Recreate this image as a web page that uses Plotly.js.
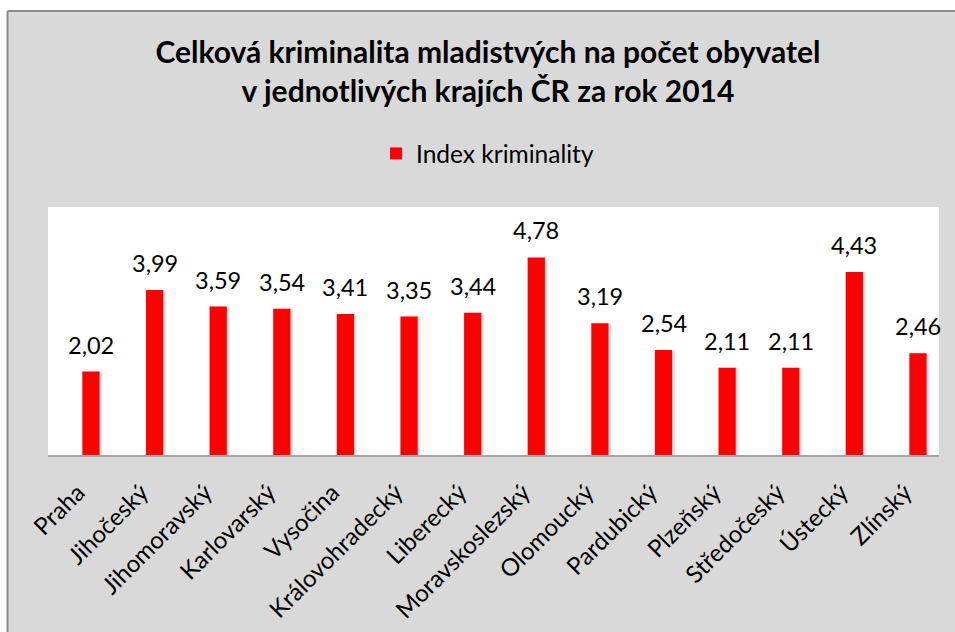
<!DOCTYPE html>
<html>
<head>
<meta charset="utf-8">
<script src="https://cdn.plot.ly/plotly-3.0.1.min.js"></script>
<style>html,body{margin:0;padding:0;background:#fff;}#chart{width:955px;height:632px;}</style>
</head>
<body>
<div id="chart"></div>
<script>
var categories = ["Praha","Jihočeský","Jihomoravský","Karlovarský","Vysočina","Královohradecký","Liberecký","Moravskoslezský","Olomoucký","Pardubický","Plzeňský","Středočeský","Ústecký","Zlínský"];
var values = [2.02,3.99,3.59,3.54,3.41,3.35,3.44,4.78,3.19,2.54,2.11,2.11,4.43,2.46];
var seriesName = "Index kriminality";
var titleLines = ["Celková kriminalita mladistvých na počet obyvatel","v jednotlivých krajích ČR za rok 2014"];

var FONT = "Lato, 'Open Sans', sans-serif";
var W = 955, H = 632, L = 48, R = 16, T = 207, B = 177;
var pw = W - L - R, ph = H - T - B;
function px2x(p){ return (p - L) / pw; }
function py2y(p){ return (H - B - p) / ph; }

var shadow = {
  type: "bar", x: categories, y: values, width: 0.33, offset: -0.15,
  marker: {color: "rgba(0,0,0,0.10)"}, showlegend: false, hoverinfo: "skip"
};
var bars = {
  type: "bar", name: seriesName, x: categories, y: values, width: 0.27,
  marker: {color: "#ff0000"}
};

var labels = categories.map(function(c, i){
  return {
    x: c, y: values[i], xref: "x", yref: "y", text: values[i].toFixed(2).replace(".", ","),
    showarrow: false, yanchor: "middle", yshift: 27,
    font: {family: FONT, size: 23.5, color: "#000"}
  };
});

var borderColor = "#8c8c8c";
var shapes = [
  {type: "rect", xref: "paper", yref: "paper", x0: px2x(-5), x1: px2x(W + 5), y0: py2y(11), y1: py2y(-5), fillcolor: "#ffffff", line: {width: 0}, layer: "below"},
  {type: "rect", xref: "paper", yref: "paper", x0: px2x(-5), x1: px2x(7), y0: py2y(H + 5), y1: py2y(-5), fillcolor: "#ffffff", line: {width: 0}, layer: "below"},
  {type: "line", xref: "paper", yref: "paper", x0: px2x(7.5), x1: px2x(W + 5), y0: py2y(11), y1: py2y(11), line: {color: borderColor, width: 2}},
  {type: "line", xref: "paper", yref: "paper", x0: px2x(7.5), x1: px2x(7.5), y0: py2y(11), y1: py2y(H + 5), line: {color: borderColor, width: 2}}
];

var layout = {
  width: W, height: H,
  margin: {l: L, r: R, t: T, b: B, pad: 0},
  paper_bgcolor: "#d9d9d9", plot_bgcolor: "#ffffff",
  font: {family: FONT, color: "#000"},
  separators: ", ",
  barmode: "overlay",
  title: {
    text: titleLines.join("<br>"),
    font: {family: FONT, size: 30, color: "#000", weight: "bold"},
    x: 488 / W, xanchor: "center", xref: "container",
    y: 1 - 63 / H, yanchor: "top", yref: "container"
  },
  showlegend: true,
  legend: {
    orientation: "h", x: px2x(376), xanchor: "left", y: py2y(153.5), yanchor: "middle",
    bgcolor: "rgba(0,0,0,0)", font: {family: FONT, size: 24.5, color: "#000"}
  },
  xaxis: {
    type: "category", range: [-0.676, 13.33], tickangle: -45,
    showline: true, linecolor: "#a6a6a6", linewidth: 2, ticks: "",
    showgrid: false, zeroline: false,
    ticklabelstandoff: 12, ticklabelshift: -13,
    tickfont: {family: FONT, size: 24, color: "#000"}, fixedrange: true
  },
  yaxis: {range: [0, 6], visible: false, showgrid: false, zeroline: false, fixedrange: true},
  annotations: labels,
  shapes: shapes
};

Plotly.newPlot("chart", [shadow, bars], layout, {displayModeBar: false, staticPlot: true});
</script>
</body>
</html>
